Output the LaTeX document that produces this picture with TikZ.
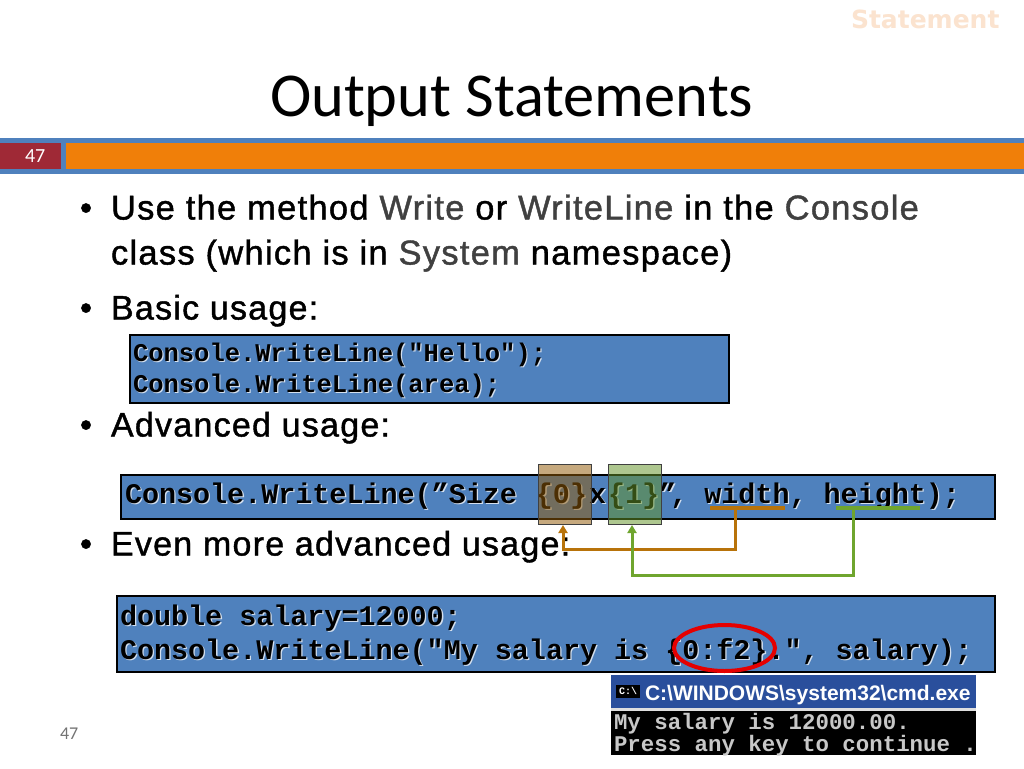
\documentclass[tikz,border=0pt]{standalone}
\usepackage{fontspec}
\setmainfont{Carlito}
\setmonofont{Liberation Mono}
\newfontfamily\uifont{Liberation Sans}
\newfontfamily\hdrfont{DejaVu Sans}
\newfontfamily\bodyfont{Liberation Sans}[LetterSpace=3.7,RawFeature={embolden=1.2}]
\usetikzlibrary{arrows.meta,shapes.geometric}
\definecolor{bandblue}{HTML}{4F81BD}
\definecolor{bandorange}{HTML}{F07F09}
\definecolor{bandred}{HTML}{9F2936}
\definecolor{kw}{HTML}{404040}
\definecolor{faint}{HTML}{FBE3CF}
\definecolor{arrowor}{HTML}{B8730A}
\definecolor{arrowgr}{HTML}{6FA52E}
\definecolor{consoletxt}{HTML}{C8C8C8}
\definecolor{winblue}{HTML}{2A4F9C}
\newcommand{\fs}[1]{\fontsize{#1}{#1}\selectfont}
\newcommand{\K}[1]{\textcolor{kw}{#1}}
\newcommand{\advtext}{Console.WriteLine(”Size\kern2pt{} \{0\}\kern2pt x\kern2pt\{1\}”\kern-6pt, width, height);}
\tikzset{
  txt/.style={anchor=base west,inner sep=0pt,outer sep=0pt},
  bullettxt/.style={txt,font=\fs{34.5}\bodyfont},
  shorttxt/.style={txt,font=\fs{34}\bodyfont},
  codebox/.style={draw=black,line width=2pt,fill=bandblue,inner sep=0pt,anchor=north west},
  shadowtxt/.style={txt,text=white!75!bandblue,font=\fs{#1}\ttfamily\bfseries},
  codetxt/.style={txt,text=black,font=\fs{#1}\ttfamily\bfseries},
  overlay box/.style={draw=black!75,line width=1.2pt,fill=#1,fill opacity=.52,minimum width=53pt,minimum height=60pt,inner sep=0pt,anchor=north west},
  link/.style={line width=3pt,draw=#1,-{Triangle[length=8pt,width=9pt]}},
  under/.style={line width=4pt,draw=#1}
}
\begin{document}
\begin{tikzpicture}[x=1pt,y=-1pt]
\useasboundingbox (0,0) rectangle (1024,768);
\fill[white] (0,0) rectangle (1024,768);
\node[txt,font=\fs{25}\hdrfont\bfseries,text=faint] (hdr) at (851,29) {Statement};
\node[txt,font=\fs{62.4}] (title) at (270,116.5) {Output Statements};
% band
\node[fill=bandblue,minimum width=1024pt,minimum height=36pt,inner sep=0pt,anchor=north west] (band) at (0,138) {};
\node[fill=bandred,minimum width=61pt,minimum height=26pt,inner sep=0pt,anchor=north west] (numbox) at (0,143) {};
\node[fill=bandorange,minimum width=958pt,minimum height=26pt,inner sep=0pt,anchor=north west] (orange) at (66,143) {};
\node[txt,font=\fs{20},text=white] (num) at (25,162) {47};
% bullets
\node[bullettxt] (b1) at (80,219.5) {•};
\node[bullettxt] (l1) at (111,219.5) {Use the method \K{Write} or \K{WriteLine} in the \K{Console}};
\node[bullettxt] (l2) at (111,264.5) {class (which is in \K{System} namespace)};
\node[bullettxt] (b2) at (80,319.5) {•};
\node[shorttxt] (l3) at (111,319.5) {Basic usage:};
\node[bullettxt] (b3) at (80,436.5) {•};
\node[shorttxt] (l4) at (111,436.5) {Advanced usage:};
\node[bullettxt] (b4) at (80,555.5) {•};
\node[shorttxt] (l5) at (111,555.5) {Even more advanced usage:};
% code box 1
\node[codebox,minimum width=599pt,minimum height=68pt] (c1) at (128.5,333.5) {};
\foreach \n/\y/\t in {a/361/{Console.WriteLine("Hello");},b/392/{Console.WriteLine(area);}}{
  \node[shadowtxt=25.5] (c1\n s) at (134.2,\y+1.2) {\t};
  \node[codetxt=25.5] (c1\n) at (133,\y) {\t};
}
% code box 2
\node[codebox,minimum width=874pt,minimum height=44pt] (c2) at (119.5,473.5) {};
\node[shadowtxt=28.4] (c2as) at (126.3,504.3) {\advtext};
\node[codetxt=28.4] (c2a) at (125,503) {\advtext};
\node[overlay box=arrowor!80!black] (box0) at (538,464) {};
\node[overlay box=arrowgr!90!black] (box1) at (608,464) {};
\coordinate (wl) at (710,508);
\coordinate (wr) at (785,508);
\coordinate (wm) at (735,508);
\coordinate (hl) at (836,508);
\coordinate (hr) at (920,508);
\coordinate (hm) at (853,508);
\coordinate (wturn) at (735,549);
\coordinate (hturn) at (853,575);
\coordinate (t0) at (563,525);
\coordinate (t1) at (632,525);
\draw[under=arrowor] (wl) -- (wr);
\draw[under=arrowgr] (hl) -- (hr);
\draw[link=arrowor] (wm) -- (wturn) -| (t0);
\draw[link=arrowgr] (hm) -- (hturn) -| (t1);
% code box 3
\node[codebox,minimum width=878pt,minimum height=76pt] (c3) at (115.5,594.5) {};
\foreach \n/\x/\y/\t in {a/120/625/{double salary=12000;},b/120/659/{Console.WriteLine("My salary is \{0:f2\}.", salary);}}{
  \node[shadowtxt=28.4] (c3\n s) at (\x+1.3,\y+1.3) {\t};
  \node[codetxt=28.4] (c3\n) at (\x,\y) {\t};
}
\node[draw=red!90!black,line width=4pt,ellipse,minimum width=101pt,minimum height=46pt,inner sep=0pt] (ring) at (724.5,648) {};
% console window
\fill[black] (611,675) rectangle (976,755);
\fill[winblue] (611,675) rectangle (976,708);
\fill[white!75!gray] (611,708) rectangle (976,711);
\node[fill=black,minimum width=24pt,minimum height=13pt,inner sep=0pt,font=\fs{10}\ttfamily\bfseries,text=white] (icon) at (628,691) {C:\textbackslash};
\node[txt,font=\fs{21}\uifont\bfseries,text=white] (wintitle) at (645,700) {C:\textbackslash WINDOWS\textbackslash system32\textbackslash cmd.exe};
\node[txt,anchor=north west,align=left,font=\fontsize{22.4}{20}\selectfont\ttfamily\bfseries,text=consoletxt] (o1) at (614,713) {My salary is 12000.00.\\Press any key to continue .};
\node[txt,font=\fs{18},text=black!55] (foot) at (60,739) {47};
\end{tikzpicture}
\end{document}
